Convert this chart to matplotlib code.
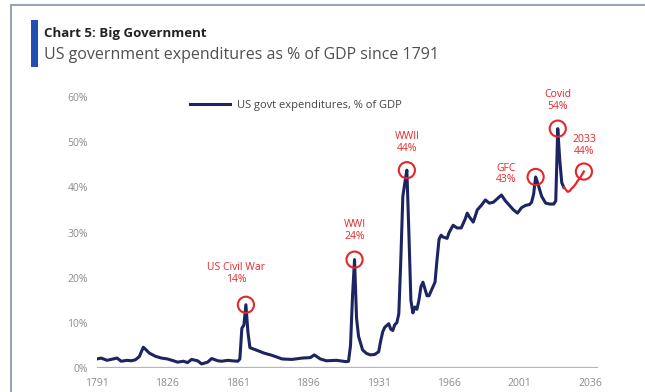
import matplotlib
matplotlib.use("Agg")
import matplotlib.pyplot as plt
from matplotlib.lines import Line2D
from matplotlib.patches import Rectangle

plt.rcParams['font.family'] = ['Open Sans', 'DejaVu Sans']

# historical series, % of GDP
hist_years = [1791, 1793, 1796, 1799, 1801, 1803, 1806, 1808, 1810, 1812, 1814, 1815, 1817,
              1820, 1823, 1826, 1829, 1831, 1834, 1836, 1838, 1841, 1843, 1846, 1848, 1851,
              1853, 1856, 1858, 1861, 1862, 1863, 1864, 1865, 1866, 1867, 1870, 1874, 1878,
              1883, 1888, 1893, 1897, 1899, 1902, 1905, 1910, 1915, 1916, 1917, 1918, 1919,
              1920, 1921, 1923, 1925, 1927, 1929, 1931, 1932, 1933, 1934, 1936, 1937, 1938,
              1939, 1940, 1941, 1942, 1943, 1944, 1945, 1946, 1947, 1948, 1949, 1950, 1951,
              1952, 1953, 1955, 1956, 1958, 1959, 1960, 1961, 1962, 1963, 1965, 1966, 1968,
              1970, 1972, 1974, 1975, 1976, 1978, 1980, 1982, 1984, 1986, 1988, 1990, 1992,
              1994, 1996, 1998, 2000, 2002, 2004, 2006, 2007, 2008, 2009, 2010, 2011, 2012,
              2014, 2016, 2018, 2019, 2020, 2021, 2022, 2023]
hist_vals = [2.0, 2.2, 1.7, 2.0, 2.2, 1.5, 1.7, 1.6, 1.8, 2.5, 4.6, 4.2, 3.3,
             2.6, 2.2, 2.0, 1.6, 1.3, 1.5, 1.2, 1.9, 1.6, 0.9, 1.3, 2.1, 1.6,
             1.5, 1.7, 1.6, 1.5, 2.0, 8.8, 9.5, 14.0, 8.0, 4.5, 4.0, 3.3, 2.8,
             2.0, 1.9, 2.2, 2.3, 2.9, 2.0, 1.6, 1.7, 1.4, 1.5, 5.0, 16.0, 24.0,
             11.0, 7.0, 4.0, 3.2, 2.9, 3.0, 3.6, 6.0, 8.0, 9.0, 9.8, 8.6, 8.3,
             9.6, 10.0, 12.0, 24.0, 38.0, 41.0, 43.8, 30.0, 15.0, 12.2, 13.5, 13.0, 15.0,
             18.0, 19.0, 16.0, 16.0, 18.0, 19.0, 24.0, 28.5, 29.4, 29.0, 28.7, 30.0, 31.6,
             31.0, 31.0, 33.0, 34.3, 33.5, 32.3, 35.0, 36.0, 37.2, 36.5, 36.7, 37.5, 38.3,
             37.0, 36.0, 35.0, 34.3, 35.5, 36.0, 36.2, 36.7, 38.5, 42.3, 41.0, 39.5, 38.0,
             36.5, 36.3, 36.3, 37.0, 53.0, 46.0, 41.0, 40.0]

# projection
proj_years = [2023, 2024, 2025, 2026, 2027, 2028, 2029, 2030, 2031, 2032, 2033]
proj_vals = [40.0, 39.5, 39.0, 39.2, 39.8, 40.2, 40.8, 41.5, 42.0, 42.8, 43.5]

# highlighted events
event_labels = ["US Civil War\n14%", "WWI\n24%", "WWII\n44%", "GFC\n43%", "Covid\n54%", "2033\n44%"]
event_years = [1865, 1919, 1945, 2009, 2020, 2033]
event_vals = [14.0, 24.0, 43.8, 42.3, 53.0, 43.5]
label_offsets = [(-10, 31), (0, 29), (0, 28), (-30, 3), (0, 28), (0, 26)]  # pixels

xticks = [1791, 1826, 1861, 1896, 1931, 1966, 2001, 2036]
yticks = [0, 10, 20, 30, 40, 50, 60]

navy = "#1c2461"
red = "#e3262a"
grey = "#8c8c8c"

fig = plt.figure(figsize=(6.45, 3.92), dpi=100)
ax = fig.add_axes([97 / 645, 1 - 368 / 392, (598 - 97) / 645, (368 - 97) / 392])

ax.axhline(0, color="#b5b5b5", lw=1.6, zorder=1)
ax.plot(hist_years, hist_vals, color=navy, lw=2.2, zorder=3,
        label="US govt expenditures, % of GDP")
ax.plot(proj_years, proj_vals, color=red, lw=1.6, zorder=3)

ax.scatter(event_years, event_vals, s=135, facecolors="none", edgecolors=red,
           linewidths=1.5, zorder=4, clip_on=False)
for lab, yr, v, off in zip(event_labels, event_years, event_vals, label_offsets):
    ax.annotate(lab, (yr, v), xytext=off, textcoords="offset pixels",
                ha="center", va="center", color=red, fontsize=7.5,
                linespacing=1.1, annotation_clip=False)

ax.set_xlim(1791, 2040)
ax.set_ylim(0, 60)
ax.set_xticks(xticks)
ax.set_yticks(yticks)
ax.set_yticklabels([f"{t}%" for t in yticks])
ax.tick_params(axis="both", length=0, labelsize=7.5, labelcolor=grey)
ax.tick_params(axis="y", pad=6.5)
ax.tick_params(axis="x", pad=7)
for s in ax.spines.values():
    s.set_visible(False)

leg = ax.legend(loc="center left", bbox_to_anchor=(0.186, 0.97), frameon=False,
                fontsize=8, handlelength=3.6, handletextpad=0.6,
                borderpad=0, borderaxespad=0)
for t in leg.get_texts():
    t.set_color("#444444")

# title block
fig.add_artist(Rectangle((31 / 645, 1 - 67 / 392), 7 / 645, 47 / 392,
                         transform=fig.transFigure, color="#1f4fb4", lw=0))
fig.text(44 / 645, 1 - 33 / 392, "Chart 5: Big Government", fontsize=9.5,
         fontweight="bold", color="#222222", va="center")
fig.text(44 / 645, 1 - 55 / 392, "US government expenditures as % of GDP since 1791",
         fontsize=11.5, color="#505050", va="center")

# frame lines
fig.add_artist(Line2D([11 / 645, 1], [1 - 5 / 392, 1 - 5 / 392],
                      transform=fig.transFigure, color="#9aa4b4", lw=1.5))
fig.add_artist(Line2D([11 / 645, 11 / 645], [0, 1 - 5 / 392],
                      transform=fig.transFigure, color="#9aa4b4", lw=1.5))

fig.savefig("out.png", dpi=100)
